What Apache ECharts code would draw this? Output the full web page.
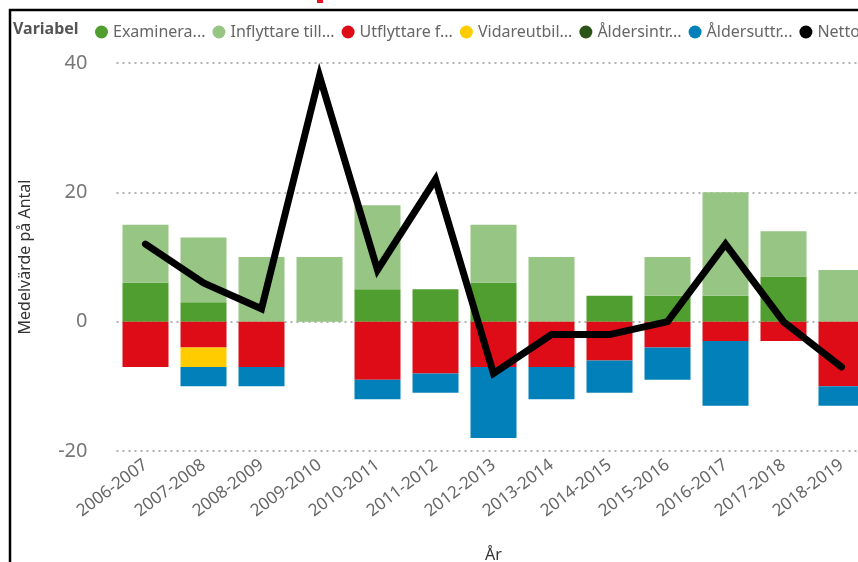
<!DOCTYPE html>
<html>
<head>
<meta charset="utf-8">
<script src="https://cdn.jsdelivr.net/npm/echarts@6/dist/echarts.min.js"></script>
<style>
  html, body { margin: 0; padding: 0; background: #fff; }
  #chart { width: 858px; height: 562px; }
</style>
</head>
<body>
<div id="chart"></div>
<script>
// kategorier (år)
var years = ['2006-2007', '2007-2008', '2008-2009', '2009-2010', '2010-2011', '2011-2012', '2012-2013',
  '2013-2014', '2014-2015', '2015-2016', '2016-2017', '2017-2018', '2018-2019'];

// serier, stackade staplar
var examinerade = [6, 3, 0, 0, 5, 5, 6, 0, 4, 4, 4, 7, 0];
var inflyttare = [9, 10, 10, 10, 13, 0, 9, 10, 0, 6, 16, 7, 8];
var utflyttare = [-7, -4, -7, 0, -9, -8, -7, -7, -6, -4, -3, -3, -10];
var vidareutbildning = [0, -3, 0, 0, 0, 0, 0, 0, 0, 0, 0, 0, 0];
var aldersintrade = [0, 0, 0, 0, 0, 0, 0, 0, 0, 0, 0, 0, 0];
var aldersuttrade = [0, -3, -3, 0, -3, -3, -11, -5, -5, -5, -10, 0, -3];
// linje
var netto = [12, 6, 2, 38, 8, 22, -8, -2, -2, 0, 12, 0, -7];

var yTicks = [-20, 0, 20, 40];

var seriesNames = ['Examinerade', 'Inflyttare till kommunen', 'Utflyttare från kommunen', 'Vidareutbildning',
  'Åldersintrade', 'Åldersuttrade', 'Netto'];
var legendLabels = ['Examinera...', 'Inflyttare till...', 'Utflyttare f...', 'Vidareutbil...',
  'Åldersintr...', 'Åldersuttr...', 'Netto'];
var colors = ['#519E30', '#97C584', '#DE0C17', '#FFCC00', '#2C5419', '#0280B9', '#000000'];

var font = 'Noto Sans';

var myChart = echarts.init(document.getElementById('chart'));

function barSeries (idx, data) {
  return {
    name: seriesNames[idx],
    type: 'bar',
    stack: 'total',
    barWidth: 46,
    data: data,
    itemStyle: { color: colors[idx] }
  };
}

var option = {
  animation: false,
  color: colors,
  textStyle: { fontFamily: font },
  grid: { left: 116.5, width: 754, top: 63, height: 388, outerBoundsMode: 'none', containLabel: false },
  legend: {
    left: 90,
    top: 19,
    width: 1000,
    icon: 'circle',
    itemWidth: 13,
    itemHeight: 13,
    itemGap: 7,
    data: seriesNames,
    formatter: function (name) {
      return legendLabels[seriesNames.indexOf(name)];
    },
    textStyle: { color: '#666', fontSize: 16, fontFamily: font }
  },
  xAxis: {
    type: 'category',
    data: years,
    name: 'År',
    nameLocation: 'middle',
    nameGap: 96,
    nameTextStyle: { color: '#333', fontSize: 16 },
    axisLine: { show: false },
    axisTick: { show: false },
    axisLabel: { interval: 0, rotate: 37, color: '#666', fontSize: 17, margin: 12 }
  },
  yAxis: {
    type: 'value',
    min: yTicks[0],
    max: yTicks[yTicks.length - 1],
    interval: 20,
    name: 'Medelvärde på Antal',
    nameLocation: 'middle',
    nameGap: 83,
    nameTextStyle: { color: '#333', fontSize: 16 },
    axisLabel: { color: '#777', fontSize: 20, margin: 29 },
    splitLine: { lineStyle: { color: '#999', type: [2, 4], width: 1.5 } }
  },
  series: [
    barSeries(0, examinerade),
    barSeries(1, inflyttare),
    barSeries(2, utflyttare),
    barSeries(3, vidareutbildning),
    barSeries(4, aldersintrade),
    barSeries(5, aldersuttrade),
    {
      name: seriesNames[6],
      type: 'line',
      data: netto,
      symbol: 'none',
      z: 5,
      lineStyle: { color: '#000', width: 7, cap: 'round', join: 'miter' },
      itemStyle: { color: '#000' }
    }
  ],
  graphic: [
    { type: 'line', shape: { x1: 9, y1: 10, x2: 858, y2: 10 }, style: { stroke: '#000', lineWidth: 2.5 } },
    { type: 'line', shape: { x1: 10, y1: 9, x2: 10, y2: 562 }, style: { stroke: '#000', lineWidth: 2.5 } },
    { type: 'rect', shape: { x: 317, y: 0, width: 6, height: 3 }, style: { fill: '#E81123' } },
    {
      type: 'text', left: 13, top: 21,
      style: { text: 'Variabel', fill: '#555', font: 'bold 16px "Noto Sans"' }
    }
  ]
};

if (option && typeof option == "object") {
  myChart.setOption(option, true);
}
</script>
</body>
</html>
